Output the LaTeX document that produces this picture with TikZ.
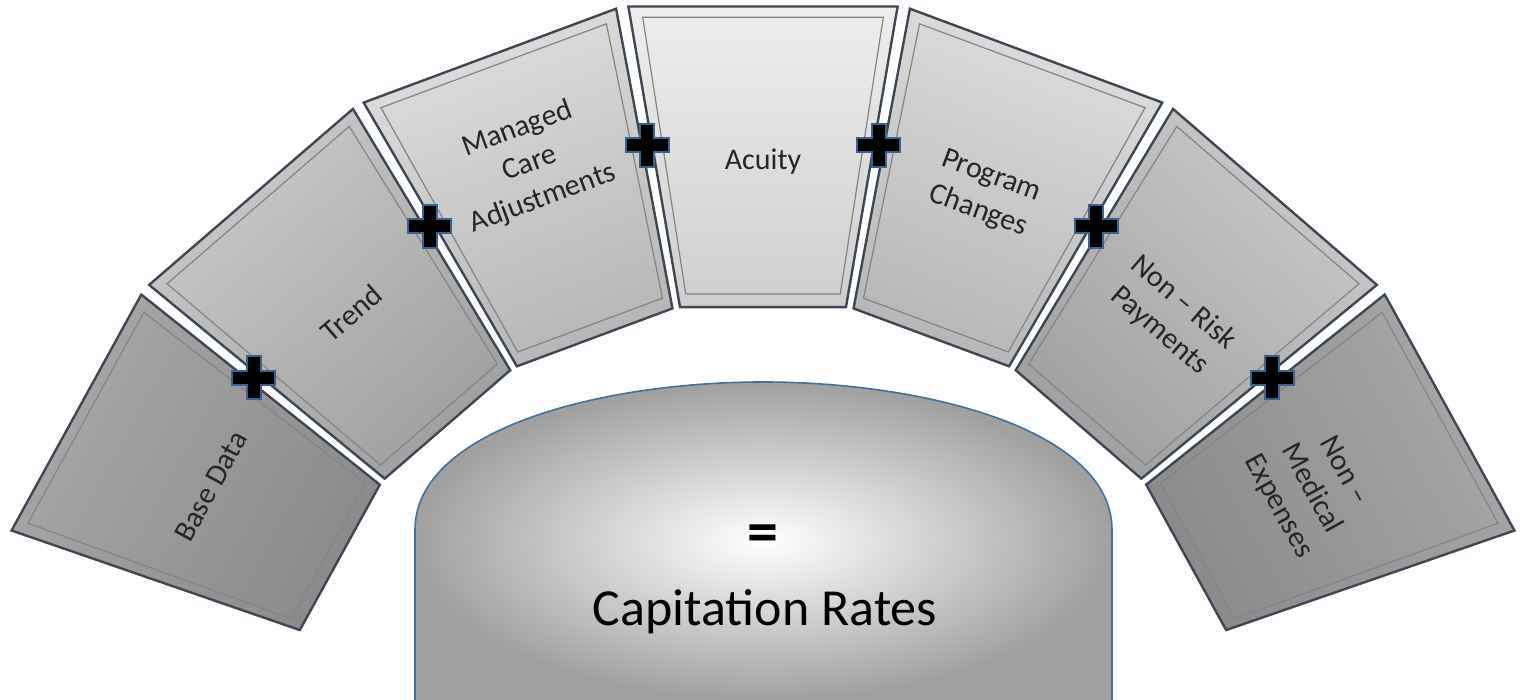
\documentclass[tikz,border=0pt]{standalone}
\usepackage{fontspec}
\setmainfont{Carlito}
\usepackage{tikz}
\usetikzlibrary{calc}
\definecolor{blockedge}{RGB}{62, 72, 84}
\definecolor{frameline}{RGB}{132, 132, 132}
\definecolor{plusedge}{RGB}{58, 98, 142}
\definecolor{domeedge}{RGB}{65, 113, 156}
\definecolor{domegrey}{RGB}{160, 160, 160}
\definecolor{greyA}{RGB}{168, 168, 168}
\definecolor{greyAd}{RGB}{138, 138, 138}
\definecolor{greyB}{RGB}{202, 202, 202}
\definecolor{greyBd}{RGB}{160, 160, 160}
\definecolor{greyC}{RGB}{222, 222, 222}
\definecolor{greyCd}{RGB}{182, 182, 182}
\definecolor{greyD}{RGB}{238, 238, 238}
\definecolor{greyDd}{RGB}{206, 206, 206}

\begin{document}
\begin{tikzpicture}[x=0.5pt, y=0.5pt,
    blocktext/.style={align=center, text=black!85, font=\fontsize{15}{18.5}\selectfont},
    frame/.style={draw=frameline, line width=0.6pt},
    plussign/.style={fill=black, draw=plusedge, line width=1pt}]
    \useasboundingbox (0,0) rectangle (1528,700);
    \coordinate (C) at (763,-90);

    % central dome
    \draw[domeedge, line width=0.8pt, inner color=white, outer color=domegrey]
        (415,0) -- (415,170) .. controls (415,270) and (600,318) .. (763,318)
        .. controls (926,318) and (1112,270) .. (1112,170) -- (1112,0);
    \node (eq) at (763,161) {\fontsize{31}{34}\selectfont\bfseries =};
    \node (rates) at (765,88) {\fontsize{26}{30}\selectfont Capitation Rates};

    % arch of blocks
    \foreach \t/\r/\light/\dark/\name/\txt in {
        151.2/630/greyA/greyAd/base/{Base Data},
        130.8/630/greyB/greyBd/trend/Trend,
        110.4/668/greyC/greyCd/managed/{Managed\\Care\\Adjustments},
        90/628/greyD/greyDd/acuity/Acuity,
        69.6/636/greyC/greyCd/program/{Program\\Changes},
        49.2/625/greyB/greyBd/nonrisk/{Non -- Risk\\Payments},
        28.8/625/greyA/greyAd/nonmed/{Non --\\Medical\\Expenses}} {
        \pgfmathsetmacro{\rot}{\t-90}
        \draw[blockedge, line width=1.2pt, top color=\light, bottom color=\dark, shading angle=\rot]
            ($(C)+(\t+9.75:490)$) -- ($(C)+(\t+9.75:795)$)
            -- ($(C)+(\t-9.75:795)$) -- ($(C)+(\t-9.75:490)$) -- cycle;
        \draw[frame] ($(C)+(\t+8.85:502)$) -- ($(C)+(\t+8.85:782)$)
            -- ($(C)+(\t-8.85:782)$) -- ($(C)+(\t-8.85:502)$) -- cycle;
        \node[blocktext, rotate=\rot] (\name) at ($(C)+(\t:\r)$) {\txt};
    }

    % plus signs between blocks
    \foreach \t [count=\i] in {141, 120.6, 100.2, 79.8, 59.4, 39} {
        \coordinate (p\i) at ($(C)+(\t:655)$);
        \draw[plussign, shift={(p\i)}]
            (-21.5,-7) -- (-7,-7) -- (-7,-21.5) -- (7,-21.5) -- (7,-7) -- (21.5,-7)
            -- (21.5,7) -- (7,7) -- (7,21.5) -- (-7,21.5) -- (-7,7) -- (-21.5,7) -- cycle;
    }
\end{tikzpicture}
\end{document}
